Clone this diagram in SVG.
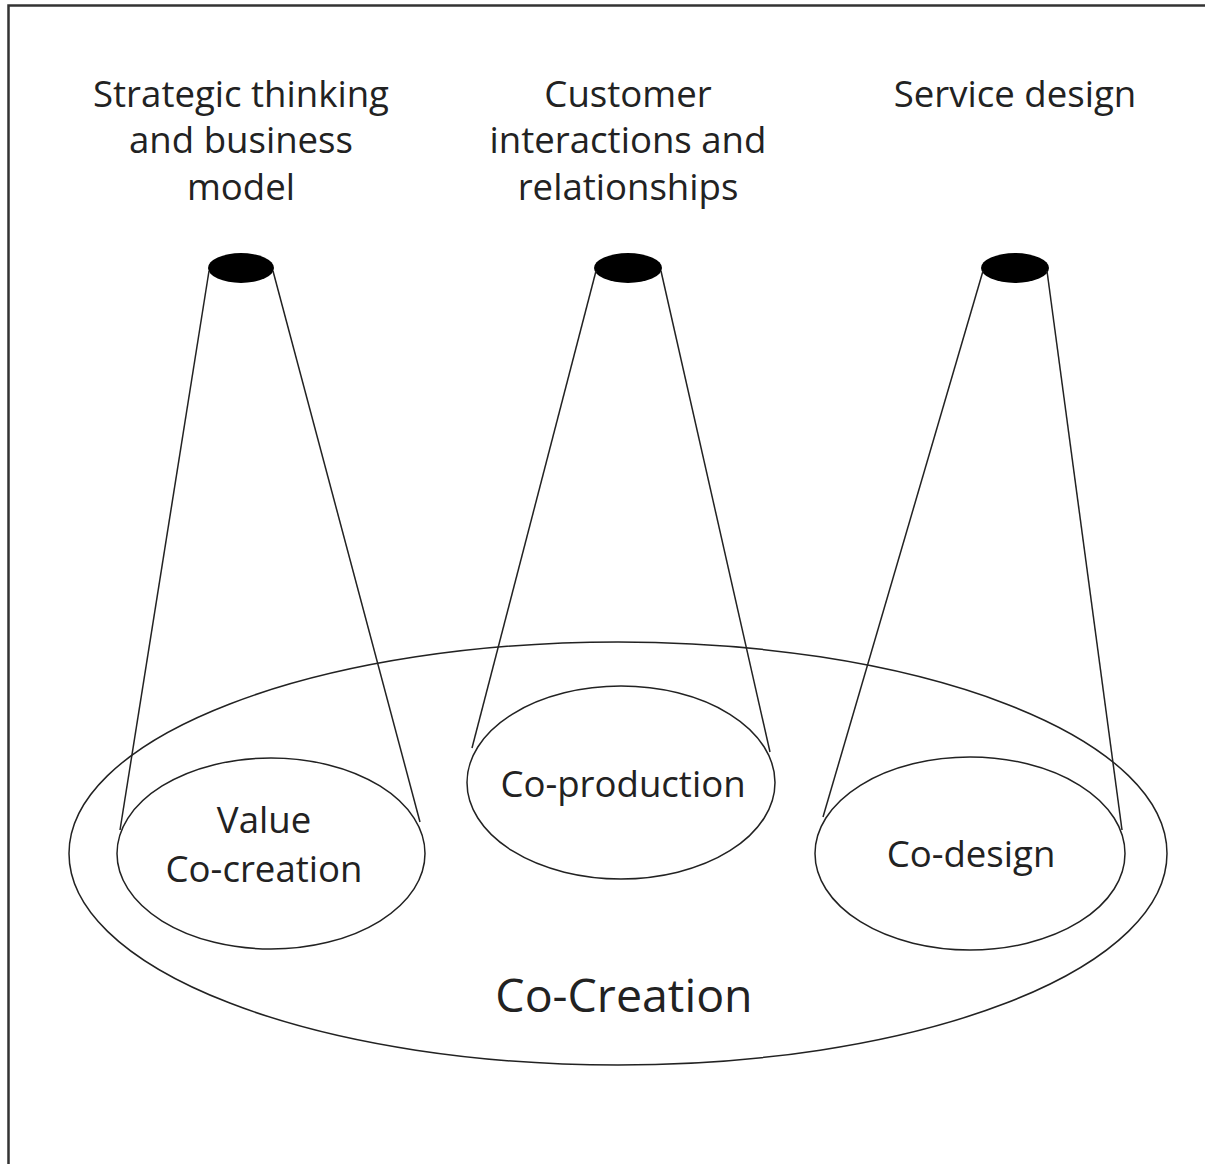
<svg xmlns="http://www.w3.org/2000/svg" width="1205" height="1164" viewBox="0 0 1205 1164">
<style>
.t{font-family:"Open Sans","Noto Sans","Liberation Sans",sans-serif;font-size:36.6px;fill:#222;text-anchor:middle}
.big{font-size:46.5px}
.o{fill:none;stroke:#222;stroke-width:1.5}
.dark{fill:#000}
.c{stroke:#222;stroke-width:1.5;fill:none}
</style>
<rect x="0" y="0" width="1205" height="1164" fill="#fff"/>
<path d="M8.5,1164 V5.5 H1205" fill="none" stroke="#333" stroke-width="2.5"/>
<g id="co-creation">
<ellipse class="o" cx="618" cy="853.5" rx="549" ry="211.5"/>
<text class="t big" x="624" y="1012">Co-Creation</text>
</g>
<g id="label-strategic">
<text class="t" x="241" y="107">Strategic thinking</text>
<text class="t" x="241" y="153">and business</text>
<text class="t" x="241" y="200">model</text>
</g>
<g id="label-customer">
<text class="t" x="628" y="107">Customer</text>
<text class="t" x="628" y="153">interactions and</text>
<text class="t" x="628" y="200">relationships</text>
</g>
<g id="label-service">
<text class="t" x="1015" y="107">Service design</text>
</g>
<g id="spot-left"><ellipse class="dark" cx="241" cy="268" rx="33" ry="15"/></g>
<g id="spot-middle"><ellipse class="dark" cx="628" cy="268" rx="34" ry="15"/></g>
<g id="spot-right"><ellipse class="dark" cx="1015" cy="268" rx="34" ry="15"/></g>
<g id="value-cocreation">
<ellipse class="o" cx="271" cy="853.5" rx="154" ry="95.5"/>
<text class="t" x="264" y="833">Value</text>
<text class="t" x="264" y="882">Co-creation</text>
</g>
<g id="co-production">
<ellipse class="o" cx="621" cy="782.5" rx="154" ry="96.5"/>
<text class="t" x="623" y="797">Co-production</text>
</g>
<g id="co-design">
<ellipse class="o" cx="970" cy="853.5" rx="155" ry="96.5"/>
<text class="t" x="971" y="867">Co-design</text>
</g>
<g id="connectors">
<line class="c" x1="209" y1="271" x2="120" y2="830"/>
<line class="c" x1="273" y1="271" x2="420" y2="822"/>
<line class="c" x1="596" y1="271" x2="472" y2="748"/>
<line class="c" x1="661" y1="271" x2="770" y2="752"/>
<line class="c" x1="983" y1="271" x2="823" y2="817"/>
<line class="c" x1="1047" y1="271" x2="1122" y2="830"/>
</g>
</svg>
